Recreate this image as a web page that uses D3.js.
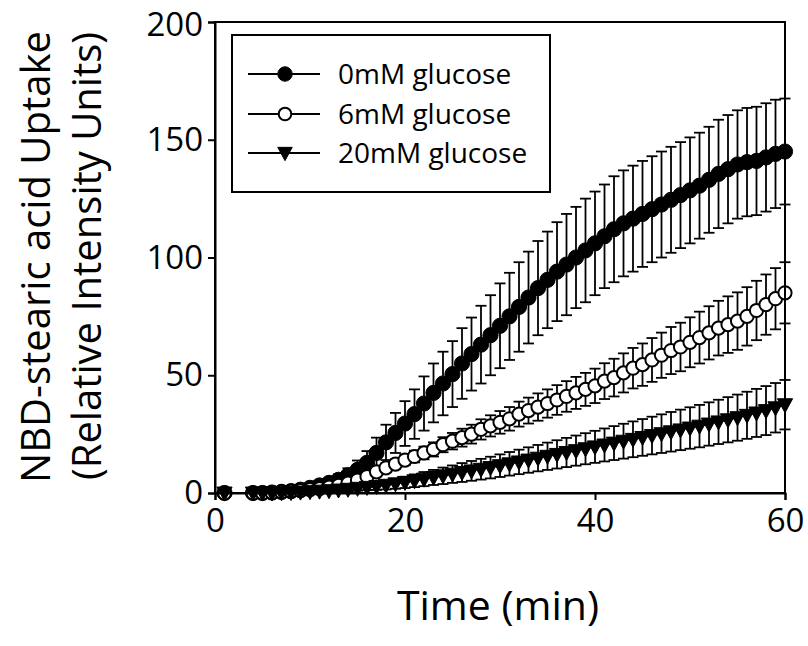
<!DOCTYPE html>
<html>
<head>
<meta charset="utf-8">
<script src="https://cdn.jsdelivr.net/npm/d3@7"></script>
<style>
  html, body { margin: 0; padding: 0; background: #fff; }
  svg { display: block; }
  text { font-family: "Open Sans", "Noto Sans", sans-serif; fill: #000; }
</style>
</head>
<body>
<svg id="chart" width="808" height="646"></svg>
<script>
// ---- Data ----
const times = [1, 4, 5, 6, 7, 8, 9, 10, 11, 12, 13, 14, 15, 16, 17, 18, 19, 20, 21, 22, 23, 24, 25, 26, 27, 28, 29, 30,
  31, 32, 33, 34, 35, 36, 37, 38, 39, 40, 41, 42, 43, 44, 45, 46, 47, 48, 49, 50, 51, 52, 53, 54, 55, 56, 57, 58, 59, 60];

const glucose0 = [0, 0, 0, 0.2, 0.5, 0.8, 1.4, 2.2, 3.2, 4.3, 5.6, 7.5, 9.8, 12.8, 17, 21.5, 25.5, 29.5, 33.5, 38, 42.5,
  46.5, 50.5, 55, 59, 63, 67, 71, 75, 79, 83, 87, 90.5, 94, 97, 100, 103, 106, 109, 112, 114.5, 116.5, 118.5, 120.5,
  122.5, 124.5, 126.5, 128.5, 130.5, 133, 135.5, 137.5, 139.5, 140.5, 141, 142.5, 144, 145];
const glucose0Err = [0, 0, 0, 0.1, 0.2, 0.3, 0.5, 0.8, 1.2, 1.7, 2.3, 3, 4, 5, 6.5, 7.5, 8.5, 9.5, 10.5, 11.5, 12.5, 13.5,
  14, 15, 15.5, 16.5, 17, 18, 18.5, 19, 19.5, 20, 20.5, 21, 21.5, 21.5, 22, 22, 22, 22.5, 22.5, 22.5, 22.5, 22.5, 22.5,
  22.5, 22.5, 22.5, 22.5, 22.5, 23, 23, 23, 23, 23, 23, 23, 22.5];

const glucose6 = [0, 0, 0, 0.2, 0.4, 0.7, 1, 1.4, 1.9, 2.5, 3.2, 4.2, 5.5, 7, 9, 10.7, 12.3, 14, 15.5, 17, 18.5, 20.5,
  22, 23.5, 25, 27, 28.5, 30, 31.5, 33.5, 35, 36.5, 38, 39.5, 41, 42.5, 44, 45.5, 47.5, 49, 51, 53, 54.5, 56.5, 58.5,
  60.5, 62, 64, 66, 68, 70, 71.5, 73, 75, 77.5, 80, 82.5, 85];
const glucose6Err = [0, 0, 0, 0, 0.1, 0.1, 0.2, 0.3, 0.4, 0.5, 0.6, 0.8, 1, 1.2, 1.5, 1.8, 2, 2.2, 2.5, 2.7, 3, 3.2, 3.5,
  3.8, 4, 4.3, 4.5, 4.8, 5, 5.3, 5.5, 5.8, 6, 6.3, 6.5, 6.8, 7, 7.3, 7.6, 8, 8.3, 8.6, 9, 9.3, 9.6, 10, 10.3, 10.6, 11,
  11.3, 11.6, 12, 12.2, 12.4, 12.6, 12.8, 13, 13];

const glucose20 = [0, 0, 0, 0, 0.1, 0.2, 0.4, 0.6, 0.8, 1, 1.3, 1.6, 2, 2.4, 2.8, 3.3, 3.9, 4.5, 5.2, 5.9, 6.6, 7.3, 8,
  8.7, 9.4, 10.1, 10.8, 11.6, 12.4, 13.2, 14, 14.8, 15.6, 16.4, 17.2, 18, 18.8, 19.6, 20.4, 21.2, 22, 22.8, 23.6, 24.4,
  25.2, 26, 26.8, 27.6, 28.4, 29.3, 30.2, 31.1, 32, 33, 34, 35, 36.2, 37.5];
const glucose20Err = [0, 0, 0, 0, 0.1, 0.1, 0.2, 0.3, 0.4, 0.5, 0.6, 0.8, 1, 1.2, 1.5, 1.8, 2.1, 2.4, 2.7, 3, 3.2, 3.5,
  3.7, 4, 4.2, 4.4, 4.6, 4.8, 5, 5.2, 5.4, 5.6, 5.8, 6, 6.2, 6.4, 6.6, 6.8, 7, 7.2, 7.4, 7.6, 7.8, 8, 8.2, 8.4, 8.6, 8.8,
  9, 9.2, 9.4, 9.6, 9.8, 10, 10.2, 10.4, 10.5, 10.5];

const seriesNames = ["0mM glucose", "6mM glucose", "20mM glucose"];
const xTicks = [0, 20, 40, 60];
const yTicks = [0, 50, 100, 150, 200];
const xTitle = "Time (min)";
const yTitle1 = "NBD-stearic acid Uptake";
const yTitle2 = "(Relative Intensity Units)";

// ---- Build ----
const svg = d3.select("#chart");
const x = d3.scaleLinear().domain([0, 60]).range([215, 785]);
const y = d3.scaleLinear().domain([0, 200]).range([493, 22]);

const series = [
  { name: seriesNames[0], values: glucose0, errs: glucose0Err, symbol: "filled" },
  { name: seriesNames[1], values: glucose6, errs: glucose6Err, symbol: "open" },
  { name: seriesNames[2], values: glucose20, errs: glucose20Err, symbol: "tri" }
];

function drawMarker(g, type, cx, cy, scale) {
  const s = scale || 1;
  if (type === "filled") {
    g.append("circle").attr("cx", cx).attr("cy", cy).attr("r", 7.6 * s)
      .attr("fill", "#000").attr("stroke", "#000").attr("stroke-width", 1);
  } else if (type === "open") {
    g.append("circle").attr("cx", cx).attr("cy", cy).attr("r", 6.6 * s)
      .attr("fill", "#fff").attr("stroke", "#000").attr("stroke-width", 2);
  } else {
    const w = 7.6 * s, h = 7 * s;
    g.append("path")
      .attr("d", `M${cx - w},${cy - h * 0.85}L${cx + w},${cy - h * 0.85}L${cx},${cy + h * 1.15}Z`)
      .attr("fill", "#000").attr("stroke", "#000").attr("stroke-width", 1);
  }
}

const plot = svg.append("g");
const line = d3.line().x((d, i) => x(times[i])).y(d => y(d));

series.forEach(s => {
  const g = plot.append("g");
  // error bars
  s.values.forEach((v, i) => {
    const e = s.errs[i];
    if (e <= 0) return;
    const cx = x(times[i]);
    g.append("line").attr("x1", cx).attr("x2", cx).attr("y1", y(v + e)).attr("y2", y(v - e))
      .attr("stroke", "#000").attr("stroke-width", 1.8);
    [v + e, v - e].forEach(ev => {
      g.append("line").attr("x1", cx - 5.5).attr("x2", cx + 5.5).attr("y1", y(ev)).attr("y2", y(ev))
        .attr("stroke", "#000").attr("stroke-width", 1.8);
    });
  });
  g.append("path").datum(s.values).attr("d", line)
    .attr("fill", "none").attr("stroke", "#000").attr("stroke-width", 1.5);
  s.values.forEach((v, i) => drawMarker(g, s.symbol, x(times[i]), y(v)));
});

// ---- Frame and axes ----
svg.append("rect").attr("x", 215).attr("y", 22).attr("width", 570).attr("height", 471)
  .attr("fill", "none").attr("stroke", "#000").attr("stroke-width", 2);

const yAxis = svg.append("g").attr("transform", "translate(215,0)")
  .call(d3.axisLeft(y).tickValues(yTicks).tickSize(7).tickPadding(5).tickFormat(d3.format("d")));
const xAxis = svg.append("g").attr("transform", "translate(0,493)")
  .call(d3.axisBottom(x).tickValues(xTicks).tickSize(7).tickPadding(9).tickFormat(d3.format("d")));
[yAxis, xAxis].forEach(a => {
  a.select(".domain").attr("stroke", "#000").attr("stroke-width", 2);
  a.selectAll(".tick line").attr("stroke", "#000").attr("stroke-width", 2);
  a.selectAll(".tick text").attr("font-size", 33).attr("font-family", "Open Sans").attr("fill", "#000");
});
// keep the topmost label's box inside the page
yAxis.selectAll(".tick text").filter(d => d === 200).attr("dy", "0.42em");

// ---- Titles ----
svg.append("text").attr("x", 498).attr("y", 620).attr("text-anchor", "middle")
  .attr("font-size", 41).text(xTitle);
svg.append("text").attr("transform", "translate(50,257) rotate(-90)").attr("text-anchor", "middle")
  .attr("font-size", 40).text(yTitle1);
svg.append("text").attr("transform", "translate(101,256) rotate(-90)").attr("text-anchor", "middle")
  .attr("font-size", 40).text(yTitle2);

// ---- Legend ----
const lg = svg.append("g");
lg.append("rect").attr("x", 232).attr("y", 35).attr("width", 318).attr("height", 157)
  .attr("fill", "#fff").attr("stroke", "#000").attr("stroke-width", 2);
const rowsY = [74, 114, 153];
series.forEach((s, i) => {
  const ry = rowsY[i];
  lg.append("line").attr("x1", 248).attr("x2", 320).attr("y1", ry).attr("y2", ry)
    .attr("stroke", "#000").attr("stroke-width", 1.8);
  drawMarker(lg, s.symbol, 285, ry, 0.95);
  lg.append("text").attr("x", 338).attr("y", ry).attr("dy", "0.35em")
    .attr("font-size", 28).text(s.name);
});
</script>
</body>
</html>
